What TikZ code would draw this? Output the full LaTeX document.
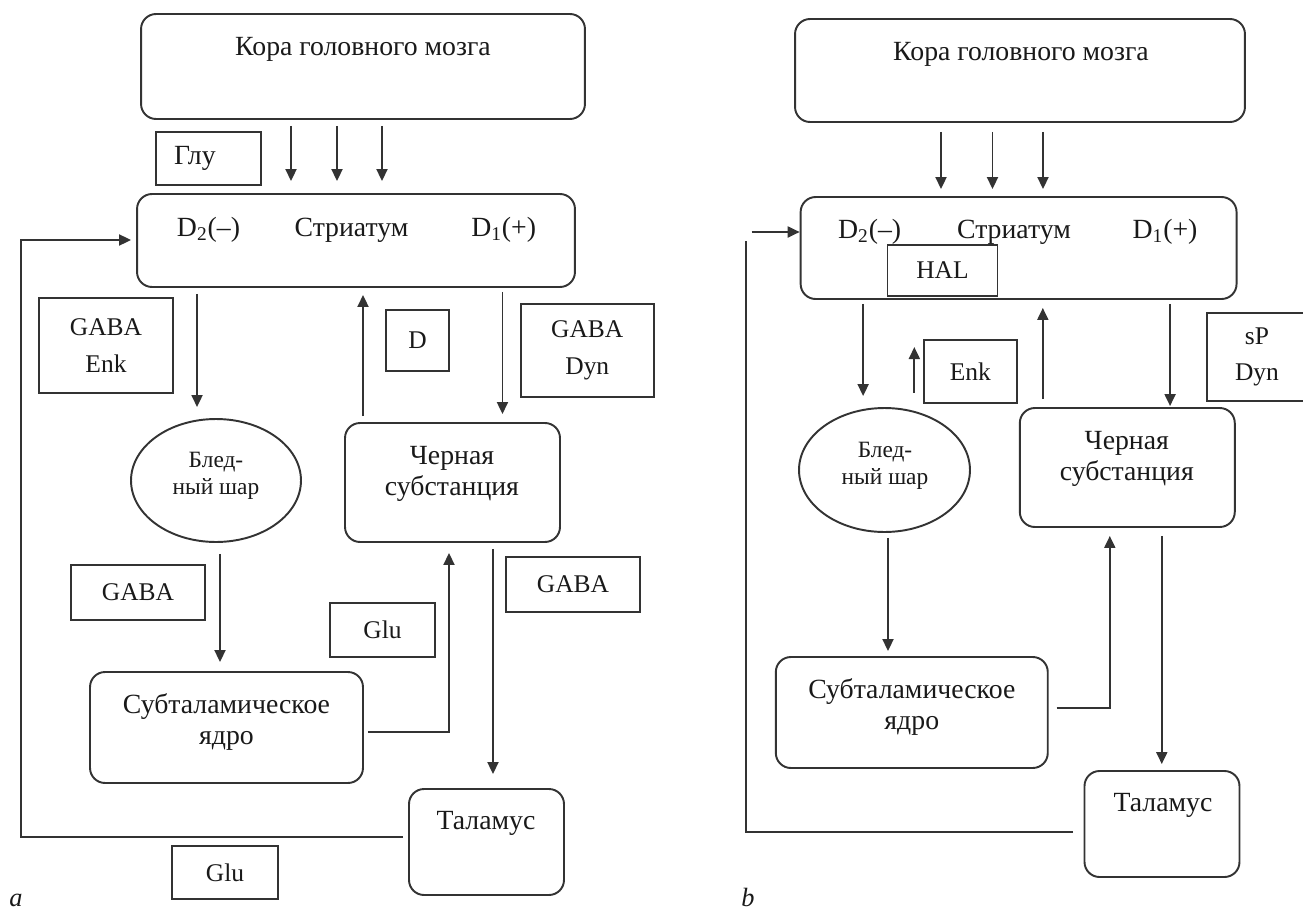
\documentclass[tikz,border=0pt]{standalone}
\usepackage{fontspec}
\setmainfont{Liberation Serif}
\usepackage{tikz}
\usetikzlibrary{shapes,arrows,arrows.meta,positioning}
\tikzstyle{region} = [draw, rounded corners=0.3cm, inner sep=0pt, line width=1.1pt, color=black!80]
\tikzstyle{nucleus} = [draw, ellipse, inner sep=0pt, line width=1.1pt, color=black!80]
\tikzstyle{chem} = [draw=black!80, line width=1.1pt, text=black!90, align=center, inner sep=0pt, font=\fontsize{14.5}{20.8}\selectfont]
\tikzstyle{rtext} = [inner sep=0pt, align=center, text=black!90, font=\fontsize{15.8}{17.6}\selectfont]
\tikzstyle{ntext} = [inner sep=0pt, align=center, text=black!90, font=\fontsize{13.3}{15.3}\selectfont]
\tikzstyle{panel} = [inner sep=0pt, anchor=base, text=black!90, font=\fontsize{15}{18}\selectfont\itshape]
\tikzstyle{arrow} = [draw, line width=1.1pt, color=black!80, -{Triangle[length=0.24cm,width=0.22cm]}]
\tikzstyle{line} = [draw, line width=1.1pt, color=black!80]
\tikzset{dims/.style 2 args={minimum width=#1cm, minimum height=#2cm}}
\newcommand{\region}[2]{node (#1) [region,#2] {}}
\newcommand{\nucleus}[2]{node (#1) [nucleus,#2] {}}
\newcommand{\chem}[3]{node (#1) [chem,#2] {#3}}
\newcommand{\rtext}[3]{node (#1) [rtext,#2] {#3}}
\newcommand{\ntext}[3]{node (#1) [ntext,#2] {#3}}

\begin{document}
\begin{tikzpicture}[x=0.02cm,y=-0.02cm]
\useasboundingbox (0,0) rectangle (1303,910);

% a
\path (363,66.5) \region{kA}{dims={8.88}{2.10}};
\path (kA)+(0,-11.5) \rtext{kAt}{anchor=base}{Кора головного мозга};
\path (kA)+(-7,174) \region{sA}{dims={8.76}{1.86}};
\path (sA)+(-147.5,-3.8) \rtext{sAd2}{anchor=base}{D\textsubscript{2}(–)};
\path (sA)+(-4.5,-3.8) \rtext{sAt}{anchor=base}{Стриатум};
\path (sA)+(147.7,-3.8) \rtext{sAd1}{anchor=base}{D\textsubscript{1}(+)};
\path (kA)+(-154.5,92) \chem{gluA}{dims={2.10}{1.06}, text width=1.38cm, inner xsep=0.36cm, align=left, font=\fontsize{15.8}{17.6}\selectfont}{Глу};
\path (sA)+(-250,105) \chem{enkA}{dims={2.68}{1.90}}{GABA\\Enk};
\path (sA)+(61.5,100) \chem{dA}{dims={1.26}{1.22}}{D};
\path (sA)+(231.3,110) \chem{dynA}{dims={2.66}{1.86}}{GABA\\Dyn};
\path (sA)+(-140,240) \nucleus{pallA}{dims={3.40}{2.46}};
\path (pallA)+(0,-28.5) \ntext{pallAt}{anchor=north}{Блед-\\ный шар};
\path (sA)+(96.5,242) \region{snA}{dims={4.30}{2.38}};
\path (snA)+(-0.5,-36.5) \rtext{snAt}{anchor=north}{Черная\\субстанция};
\path (pallA)+(-78,112) \chem{gabaA1}{dims={2.68}{1.10}}{GABA};
\path (snA)+(120.5,102) \chem{gabaA2}{dims={2.68}{1.10}}{GABA};
\path (snA)+(-70,147.5) \chem{gluA2}{dims={2.10}{1.08}}{Glu};
\path (pallA)+(10.5,247) \region{stnA}{dims={5.46}{2.22}};
\path (stnA)+(0,-33.8) \rtext{stnAt}{anchor=north}{Субталамическое\\ядро};
\path (snA)+(34,359.5) \region{thA}{dims={3.10}{2.12}};
\path (thA)+(-0.5,-12.7) \rtext{thAt}{anchor=base}{Таламус};
\path (stnA)+(-1.5,145) \chem{gluA3}{dims={2.12}{1.06}}{Glu};
\path (16,906) node (labA) [panel] {a};
\coordinate (fbA) at (21,240);

\path [arrow,shorten <=0.12cm,shorten >=0.24cm] ([xshift=-1.44cm]kA.south) -- ([xshift=-1.44cm]kA.south |- sA.north);
\path [arrow,shorten <=0.12cm,shorten >=0.24cm] ([xshift=-0.52cm]kA.south) -- ([xshift=-0.52cm]kA.south |- sA.north);
\path [arrow,shorten <=0.12cm,shorten >=0.24cm] ([xshift=0.38cm]kA.south) -- ([xshift=0.38cm]kA.south |- sA.north);
\path [arrow,shorten <=0.12cm,shorten >=0.22cm] ([xshift=-3.18cm]sA.south) -- ([xshift=-3.18cm]sA.south |- pallA.north);
\path [arrow,shorten <=0.12cm,shorten >=0.14cm] ([xshift=-1.79cm]snA.north) -- ([xshift=-1.79cm]snA.north |- sA.south);
\path [arrow,shorten <=0.08cm,shorten >=0.16cm] ([xshift=2.93cm]sA.south) -- ([xshift=2.93cm]sA.south |- snA.north);
\path [arrow,shorten <=0.22cm,shorten >=0.18cm] ([xshift=0.08cm]pallA.south) -- ([xshift=0.08cm]pallA.south |- stnA.north);
\path [arrow,shorten <=0.08cm,shorten >=0.2cm] ([yshift=-0.09cm]stnA.east) -| ([xshift=-0.07cm]snA.south);
\path [arrow,shorten <=0.12cm,shorten >=0.28cm] ([xshift=0.81cm]snA.south) -- ([xshift=0.81cm]snA.south |- thA.north);
\path [arrow,shorten <=0.1cm,shorten >=0.1cm] ([yshift=0.1cm]thA.west) -| (fbA) -- (fbA -| sA.west);

% b
\path (kA)+(657,4) \region{kB}{dims={9.00}{2.06}};
\path (kB)+(1,-10.5) \rtext{kBt}{anchor=base}{Кора головного мозга};
\path (kB)+(-1.4,177.5) \region{sB}{dims={8.72}{2.04}};
\path (sB)+(-148.9,-10) \rtext{sBd2}{anchor=base}{D\textsubscript{2}(–)};
\path (sB)+(-4.6,-10) \rtext{sBt}{anchor=base}{Стриатум};
\path (sB)+(146.4,-10) \rtext{sBd1}{anchor=base}{D\textsubscript{1}(+)};
\path (sB)+(-76.1,22.5) \chem{halB}{dims={2.20}{1.02}}{HAL};
\path (sB)+(-48.3,123.5) \chem{enkB}{dims={1.86}{1.26}}{Enk};
\path (sB)+(238.4,109) \chem{spB}{dims={2.00}{1.76}}{sP\\Dyn};
\path (sB)+(-134.1,222) \nucleus{pallB}{dims={3.42}{2.48}};
\path (pallB)+(0.5,-28) \ntext{pallBt}{anchor=north}{Блед-\\ный шар};
\path (sB)+(108.7,219.5) \region{snB}{dims={4.30}{2.38}};
\path (snB)+(-0.5,-36.2) \rtext{snBt}{anchor=north}{Черная\\субстанция};
\path (pallB)+(27.3,242.5) \region{stnB}{dims={5.44}{2.22}};
\path (stnB)+(0,-34.2) \rtext{stnBt}{anchor=north}{Субталамическое\\ядро};
\path (snB)+(34.7,356.5) \region{thB}{dims={3.10}{2.12}};
\path (thB)+(1,-12.3) \rtext{thBt}{anchor=base}{Таламус};
\path (748,906) node (labB) [panel] {b};
\coordinate (fbB1) at (746,241);
\coordinate (fbB2) at (751.6,232);

\path [arrow,shorten <=0.18cm,shorten >=0.14cm] ([xshift=-1.58cm]kB.south) -- ([xshift=-1.58cm]kB.south |- sB.north);
\path [arrow,shorten <=0.18cm,shorten >=0.14cm] ([xshift=-0.55cm]kB.south) -- ([xshift=-0.55cm]kB.south |- sB.north);
\path [arrow,shorten <=0.18cm,shorten >=0.14cm] ([xshift=0.46cm]kB.south) -- ([xshift=0.46cm]kB.south |- sB.north);
\path [arrow,shorten <=0.08cm,shorten >=0.22cm] ([xshift=-3.11cm]sB.south) -- ([xshift=-3.11cm]sB.south |- pallB.north);
\path [arrow] ([xshift=-0.17cm,yshift=0.22cm]enkB.south west) -- ([xshift=-0.17cm,yshift=-0.16cm]enkB.north west);
\path [arrow,shorten <=0.16cm,shorten >=0.16cm] ([xshift=-1.69cm]snB.north) -- ([xshift=-1.69cm]snB.north |- sB.south);
\path [arrow,shorten <=0.08cm,shorten >=0.02cm] ([xshift=3.03cm]sB.south) -- ([xshift=3.03cm]sB.south |- snB.north);
\path [arrow,shorten <=0.1cm,shorten >=0.1cm] ([xshift=0.07cm]pallB.south) -- ([xshift=0.07cm]pallB.south |- stnB.north);
\path [arrow,shorten <=0.16cm,shorten >=0.16cm] ([yshift=0.09cm]stnB.east) -| ([xshift=-0.35cm]snB.south);
\path [arrow,shorten <=0.16cm,shorten >=0.12cm] ([xshift=0.69cm]snB.south) -- ([xshift=0.69cm]snB.south |- thB.north);
\path [line,shorten <=0.21cm] ([yshift=-0.16cm]thB.west) -| (fbB1);
\path [arrow] (fbB2) -- (fbB2 -| sB.west);
\end{tikzpicture}
\end{document}
